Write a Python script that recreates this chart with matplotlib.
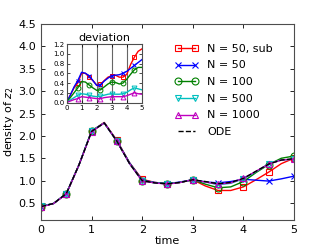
import matplotlib
matplotlib.use("Agg")
import matplotlib.pyplot as plt
import numpy as np

t = np.arange(0, 5.01, 0.25)

ode = [0.42, 0.49, 0.71, 1.35, 2.10, 2.29, 1.88, 1.38, 1.00, 0.95, 0.93, 0.96, 1.02,
       0.98, 0.93, 0.96, 1.05, 1.21, 1.37, 1.46, 1.49]
n50sub = [0.42, 0.49, 0.71, 1.35, 2.11, 2.30, 1.90, 1.40, 1.03, 0.96, 0.93, 0.96, 1.02,
          0.88, 0.78, 0.78, 0.86, 1.02, 1.19, 1.38, 1.50]
n50 = [0.42, 0.49, 0.71, 1.35, 2.11, 2.29, 1.89, 1.40, 1.01, 0.96, 0.93, 0.97, 1.02,
       0.97, 0.95, 0.98, 1.03, 1.01, 0.99, 1.04, 1.10]
n100 = [0.42, 0.49, 0.71, 1.35, 2.10, 2.29, 1.88, 1.39, 1.00, 0.95, 0.93, 0.96, 1.02,
        0.92, 0.84, 0.86, 0.98, 1.18, 1.36, 1.50, 1.55]
n500 = [0.43, 0.49, 0.71, 1.35, 2.11, 2.29, 1.88, 1.38, 1.00, 0.95, 0.93, 0.96, 1.02,
        0.97, 0.91, 0.94, 1.04, 1.20, 1.38, 1.46, 1.48]
n1000 = [0.41, 0.49, 0.70, 1.35, 2.09, 2.29, 1.88, 1.38, 0.99, 0.95, 0.92, 0.96, 1.02,
         0.97, 0.92, 0.95, 1.05, 1.21, 1.37, 1.46, 1.48]

dev_n50sub = [0, 0.15, 0.30, 0.40, 0.60, 0.60, 0.52, 0.45, 0.36, 0.37, 0.45, 0.52, 0.55,
              0.56, 0.52, 0.52, 0.58, 0.78, 0.93, 1.05, 1.10]
dev_n50 = [0, 0.15, 0.32, 0.45, 0.62, 0.60, 0.55, 0.45, 0.35, 0.36, 0.44, 0.50, 0.55,
           0.56, 0.57, 0.60, 0.64, 0.70, 0.76, 0.82, 0.88]
dev_n100 = [0, 0.10, 0.20, 0.30, 0.43, 0.42, 0.36, 0.30, 0.25, 0.26, 0.32, 0.38, 0.42,
            0.41, 0.38, 0.40, 0.48, 0.58, 0.67, 0.72, 0.72]
dev_n500 = [0, 0.05, 0.10, 0.15, 0.18, 0.17, 0.15, 0.13, 0.12, 0.13, 0.15, 0.17, 0.18,
            0.17, 0.17, 0.18, 0.21, 0.26, 0.30, 0.28, 0.26]
dev_n1000 = [0, 0.03, 0.06, 0.08, 0.12, 0.11, 0.10, 0.09, 0.08, 0.08, 0.10, 0.11, 0.12,
             0.12, 0.12, 0.12, 0.14, 0.17, 0.20, 0.18, 0.17]

labels = ["N = 50, sub", "N = 50", "N = 100", "N = 500", "N = 1000"]
colors = ["#ff0000", "#0000ff", "#008000", "#00bfbf", "#bf00bf"]
markers = ["s", "x", "o", "v", "^"]
series = [n50sub, n50, n100, n500, n1000]
devs = [dev_n50sub, dev_n50, dev_n100, dev_n500, dev_n1000]

plt.rcParams['font.family'] = ['DejaVu Sans']
fig = plt.figure(figsize=(3.27, 2.45), dpi=100)
ax = fig.add_axes([0.1254, 0.102, 0.7736, 0.8])

for y, c, m, lab in zip(series, colors, markers, labels):
    ax.plot(t, y, color=c, marker=m, markevery=2, markersize=5, lw=1.0,
            markerfacecolor='none', markeredgecolor=c, markeredgewidth=0.8, label=lab)
ax.plot(t, ode, color='k', ls='--', lw=1.0, label='ODE')

ax.set_xlim(0, 5)
ax.set_ylim(0.12, 4.5)
ax.set_xticks([0, 1, 2, 3, 4, 5])
ax.set_yticks([0.5, 1.0, 1.5, 2.0, 2.5, 3.0, 3.5, 4.0, 4.5])
ax.tick_params(direction='in', top=True, right=True, labelsize=8, length=3, width=0.6)
for s in ax.spines.values():
    s.set_color('0.3')
ax.set_xlabel('time', fontsize=8, labelpad=1)
ax.set_ylabel('density of $z_2$', fontsize=8, labelpad=2)
ax.legend(loc='upper right', bbox_to_anchor=(0.955, 0.95), frameon=False, fontsize=8,
          handlelength=2.1, handletextpad=0.8, labelspacing=0.6, numpoints=2)

ins = fig.add_axes([0.2034, 0.5816, 0.2306, 0.2388])
for xv in [1, 2, 3, 4]:
    ins.axvline(xv, color='0.4', lw=0.8, zorder=0)
for y, c, m in zip(devs, colors, markers):
    ins.plot(t, y, color=c, marker=m, markevery=(3, 3), markersize=3.5, lw=1.0,
             markerfacecolor='none', markeredgecolor=c, markeredgewidth=0.7)
ins.set_xlim(0, 5)
ins.set_ylim(0, 1.2)
ins.set_xticks([0, 1, 2, 3, 4, 5])
ins.set_yticks([0.0, 0.2, 0.4, 0.6, 0.8, 1.0, 1.2])
ins.tick_params(direction='in', top=True, right=True, labelsize=5, length=2, width=0.5, pad=1.5)
for s in ins.spines.values():
    s.set_color('0.3')
ins.set_title('deviation', fontsize=8, pad=2)

fig.savefig('out.png', dpi=100)
